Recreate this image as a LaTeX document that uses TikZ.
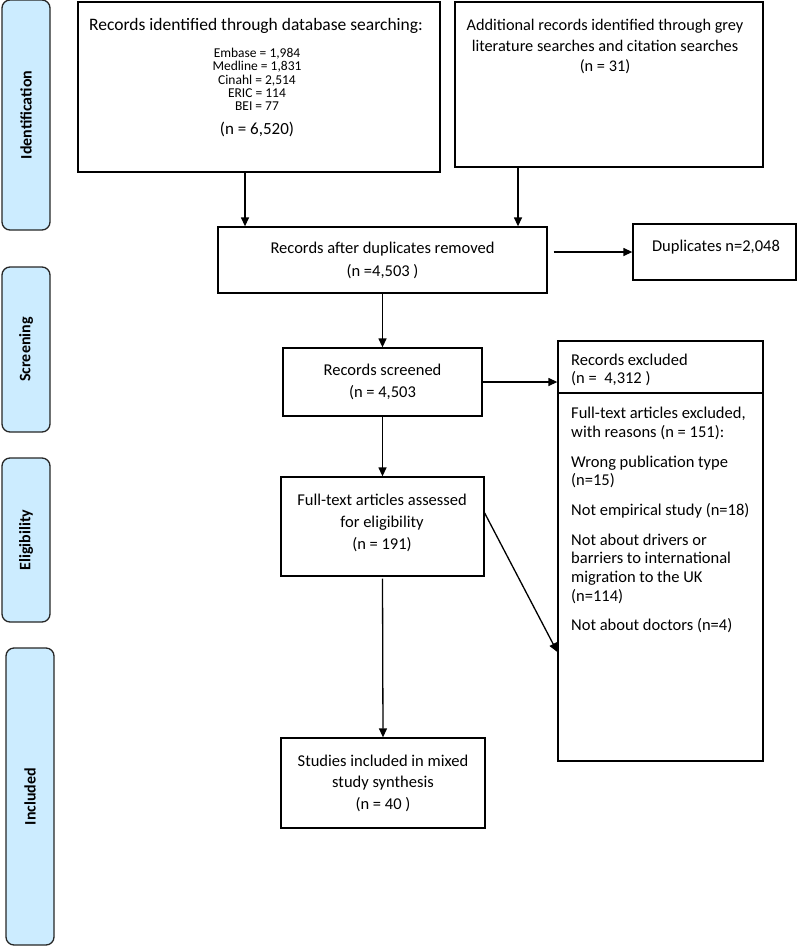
\documentclass[tikz,border=0pt]{standalone}
\usepackage{fontspec}
\setmainfont{Carlito}
\usetikzlibrary{arrows.meta}
\definecolor{sidefill}{RGB}{204,236,255}
\begin{document}
\begin{tikzpicture}[x=1pt,y=-1pt,
 box/.style={draw=black, line width=1.3pt, inner sep=0pt, align=center, font=\fontsize{16.5}{22}\selectfont},
 side/.style={draw=black!85, fill=sidefill, line width=1.3pt, rounded corners=8pt, rotate=90, inner sep=0pt, font=\bfseries\fontsize{16}{18}\selectfont},
 txt/.style={align=center, inner sep=0pt},
 arr/.style={line width=1.3pt, -{Triangle[length=9pt,width=8pt]}},
]
\useasboundingbox (0,0) rectangle (798,946);

% phase bars
\node[side, minimum width=230pt, minimum height=48pt] (sid1) at (26,115) {Identification};
\node[side, minimum width=165pt, minimum height=48pt] (sid2) at (26,349.5) {Screening};
\node[side, minimum width=164pt, minimum height=48pt] (sid3) at (26,540) {Eligibility};
\node[side, minimum width=297pt, minimum height=48pt] (sid4) at (30,796.5) {Included};

% database box
\node[box, minimum width=362pt, minimum height=170pt] (db) at (259,87) {};
\node[txt, font=\fontsize{17.5}{20}\selectfont] (dbtitle) at (256,26) {Records identified through database searching:};
\node[txt, font=\fontsize{13.5}{13.4}\selectfont] (dblist) at (257,79.5) {Embase = 1,984\\Medline = 1,831\\Cinahl = 2,514\\ERIC = 114\\BEI = 77};
\node[txt, font=\fontsize{17}{20}\selectfont] (dbn) at (257,129) {(n = 6,520)};

% grey literature box
\node[box, minimum width=308pt, minimum height=165pt] (grey) at (609,84.5) {};
\node[txt, font=\fontsize{16.3}{20.5}\selectfont] (greytext) at (605,46.5) {Additional records identified through grey\\literature searches and citation searches\\(n = 31)};

% duplicates removed
\node[box, minimum width=329pt, minimum height=66pt, font=\fontsize{16.5}{23}\selectfont] (dedup) at (382.5,260) {Records after duplicates removed\\(n =4,503 )};
\node[box, minimum width=163pt, minimum height=56pt] (dup) at (714.5,252) {};
\node[txt, font=\fontsize{16.5}{20}\selectfont] (duptext) at (716,247) {Duplicates n=2,048};

% screened
\node[box, minimum width=199pt, minimum height=68pt] (screen) at (382.5,382) {Records screened\\(n = 4,503};

% excluded
\node[box, minimum width=205pt, minimum height=52pt] (exctop) at (660.5,367) {};
\node[anchor=west, align=left, inner sep=0pt, font=\fontsize{16.5}{18.7}\selectfont] (exctoptext) at (571,370) {Records excluded\\(n =\ \ 4,312 )};
\node[box, minimum width=205pt, minimum height=368pt] (excbot) at (660.5,577) {};
\node[anchor=north west, align=left, inner sep=0pt, font=\fontsize{16.5}{18.7}\selectfont] (exctext) at (571,407) {Full-text articles excluded,\\with reasons (n = 151):\\[11pt]Wrong publication type\\(n=15)\\[11pt]Not empirical study (n=18)\\[11pt]Not about drivers or\\barriers to international\\migration to the UK\\(n=114)\\[11pt]Not about doctors (n=4)};

% full-text
\node[box, minimum width=203pt, minimum height=99pt] (full) at (382.5,526.5) {};
\node[txt, font=\fontsize{16.5}{22}\selectfont] (fulltext) at (382,523) {Full-text articles assessed\\for eligibility\\(n = 191)};

% included
\node[box, minimum width=204pt, minimum height=90pt, font=\fontsize{16.5}{21.5}\selectfont] (incl) at (383,783) {Studies included in mixed\\study synthesis\\(n = 40 )};

% connectors
\coordinate (a1) at (245,0);
\coordinate (a2) at (518,0);
\draw[arr] (db.south -| a1) -- (dedup.north -| a1);
\draw[arr] (grey.south -| a2) -- (dedup.north -| a2);
\draw[arr, shorten <=6pt] (dedup.east |- dup.west) -- (dup.west);
\draw[arr] (dedup.south) -- (screen.north);
\draw[arr] (screen.east) -- (screen.east -| exctop.west);
\draw[arr] (screen.south) -- (full.north);
\draw[arr] ([yshift=13.5pt]full.east) -- ([yshift=-75pt]excbot.west);
\draw[arr, shorten <=2pt] (full.south) -- (incl.north);
\end{tikzpicture}
\end{document}
